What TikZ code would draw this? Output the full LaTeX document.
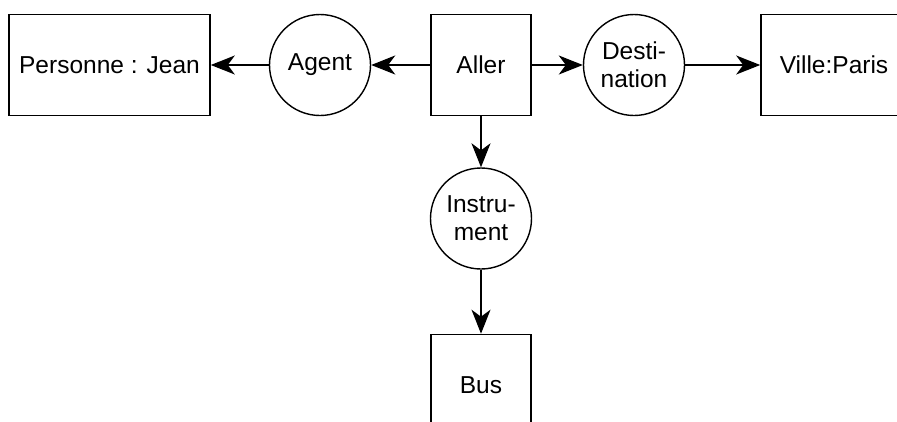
\documentclass[tikz,border=0pt]{standalone}
\usepackage{fontspec}
\setmainfont{Liberation Sans}
\usetikzlibrary{arrows.meta, positioning}

\begin{document}
\begin{tikzpicture}[x=1pt, y=-1pt,
    concept/.style={rectangle, draw, line width=1.6pt, minimum width=100pt, minimum height=101pt, font=\fontsize{24.5}{28}\selectfont},
    relation/.style={circle, draw, line width=1.4pt, minimum size=101pt, inner sep=0pt, align=center, font=\fontsize{24.5}{28}\selectfont},
    link/.style={-{Stealth[length=24pt, width=19pt, inset=7pt]}, line width=1.6pt}]
            \useasboundingbox (0,0) rectangle (897,421);
            \clip (0,0) rectangle (897,421);
            \node[concept] (aller) at (481,65) {Aller};
            
            \node[relation] (agent) [left = 59pt of aller] {Agent};
            \node[concept, minimum width=201pt] (jean) [left = 58pt of agent] {Personne : Jean};
            \node[relation] (dest) [right = 51pt of aller] {Desti-\\nation};
            \node[concept, minimum width=146pt] (paris) [right = 75pt of dest] {Ville:Paris};
            \node[relation] (instr) [below = 51pt of aller] {Instru-\\ment};
            \node[concept] (bus) [below = 64pt of instr] {Bus};
            
            \path[link]  (aller) edge (agent);
            \path[link]  (agent) edge (jean);
            \path[link]  (aller) edge (dest);
            \path[link]  (dest) edge (paris);
            \path[link]  (aller) edge (instr);
            \path[link]  (instr) edge (bus);
        \end{tikzpicture}
\end{document}
